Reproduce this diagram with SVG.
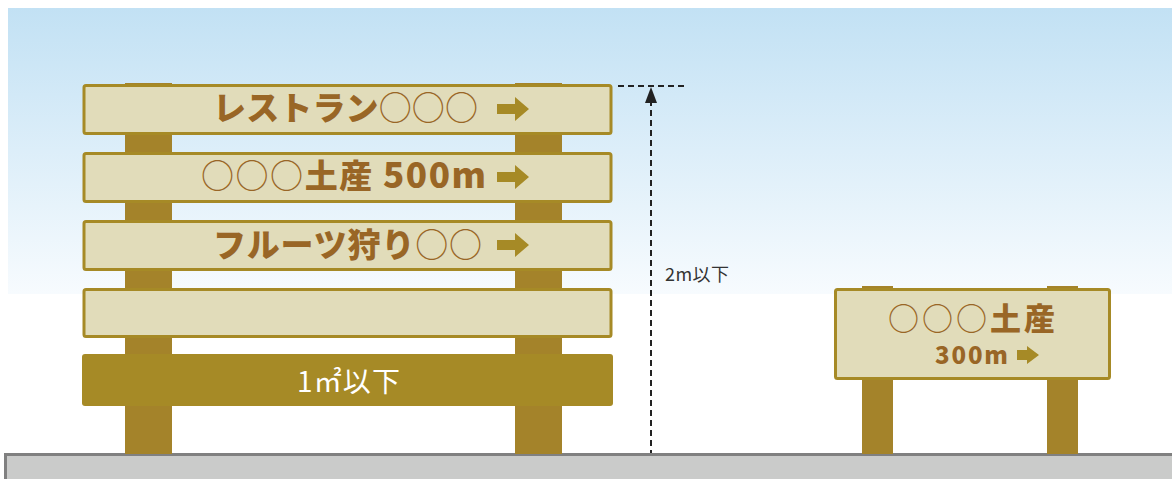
<svg xmlns="http://www.w3.org/2000/svg" width="1172" height="479" viewBox="0 0 1172 479">
  <defs>
    <linearGradient id="sky" x1="0" y1="0" x2="0" y2="1">
      <stop offset="0" stop-color="#c2e1f4"/>
      <stop offset="1" stop-color="#f7fbfe"/>
    </linearGradient>
  </defs>
  <style>
    .board { fill: #e1dcba; stroke: #a68a26; stroke-width: 3; }
    .post { fill: #a4832a; }
    .arrow { fill: #a68a26; }
    .jp { font-family: "Noto Sans CJK JP", "Noto Sans", sans-serif; fill: #996626; font-weight: 900; }
    .circ { font-weight: normal; }
    .dim { stroke: #222; stroke-width: 2; stroke-dasharray: 6 4; fill: none; }
  </style>
  <rect x="0" y="0" width="1172" height="479" fill="#ffffff"/>
  <rect x="8" y="8" width="1164" height="286" fill="url(#sky)"/>

  <g id="ground">
    <rect x="5.5" y="454.5" width="1170" height="30" fill="#cacbca" stroke="#808080" stroke-width="3"/>
  </g>

  <g id="big-sign">
    <rect class="post" x="125" y="83" width="47" height="371"/>
    <rect class="post" x="515" y="83" width="47" height="371"/>
    <g id="board1">
      <rect class="board" x="84" y="85.5" width="527" height="48" rx="2"/>
      <text class="jp" x="213" y="120" font-size="33" textLength="265" lengthAdjust="spacing">レストラン<tspan class="circ">○○○</tspan></text>
      <path class="arrow" d="M497 104 H515 V97 L529 109 L515 121 V114 H497 Z"/>
    </g>
    <g id="board2">
      <rect class="board" x="84" y="153.5" width="527" height="48" rx="2"/>
      <text class="jp" x="201" y="188" font-size="33" textLength="285" lengthAdjust="spacing"><tspan class="circ">○○○</tspan>土産 <tspan font-size="35">500m</tspan></text>
      <path class="arrow" d="M497 172 H515 V165 L529 177 L515 189 V182 H497 Z"/>
    </g>
    <g id="board3">
      <rect class="board" x="84" y="221.5" width="527" height="48" rx="2"/>
      <text class="jp" x="213" y="257" font-size="33" textLength="269" lengthAdjust="spacing">フルーツ狩り<tspan class="circ">○○</tspan></text>
      <path class="arrow" d="M497 240 H515 V233 L529 245 L515 257 V250 H497 Z"/>
    </g>
    <g id="board4">
      <rect class="board" x="84" y="289.5" width="527" height="47" rx="2"/>
    </g>
    <g id="board5">
      <rect x="82" y="354" width="531" height="52" rx="3" fill="#a68a26"/>
      <text x="297" y="392" font-size="28" textLength="103" lengthAdjust="spacing" fill="#ffffff" font-family="Noto Sans CJK JP, Noto Sans, sans-serif">1㎡以下</text>
    </g>
  </g>

  <g id="small-sign">
    <rect class="post" x="862" y="286" width="31" height="168"/>
    <rect class="post" x="1047" y="286" width="31" height="168"/>
    <rect class="board" x="835.5" y="289.5" width="274" height="89" rx="2"/>
    <text class="jp" x="888" y="330" font-size="31" textLength="167" lengthAdjust="spacing"><tspan class="circ">○○○</tspan>土産</text>
    <text class="jp" x="935" y="364" font-size="24" textLength="73" lengthAdjust="spacing">300m</text>
    <path class="arrow" d="M1017 350 H1027 V346 L1039 355 L1027 364 V360 H1017 Z"/>
  </g>

  <g id="connectors">
    <line class="dim" x1="618" y1="86" x2="686" y2="86"/>
    <line class="dim" x1="651" y1="100" x2="651" y2="453"/>
    <path d="M651 87 L657 103 L645 103 Z" fill="#222"/>
  </g>
  <g id="dim-label">
    <text x="665" y="281" font-size="18" textLength="64" lengthAdjust="spacing" fill="#333" font-family="Noto Sans CJK JP, Noto Sans, sans-serif">2m以下</text>
  </g>
</svg>
